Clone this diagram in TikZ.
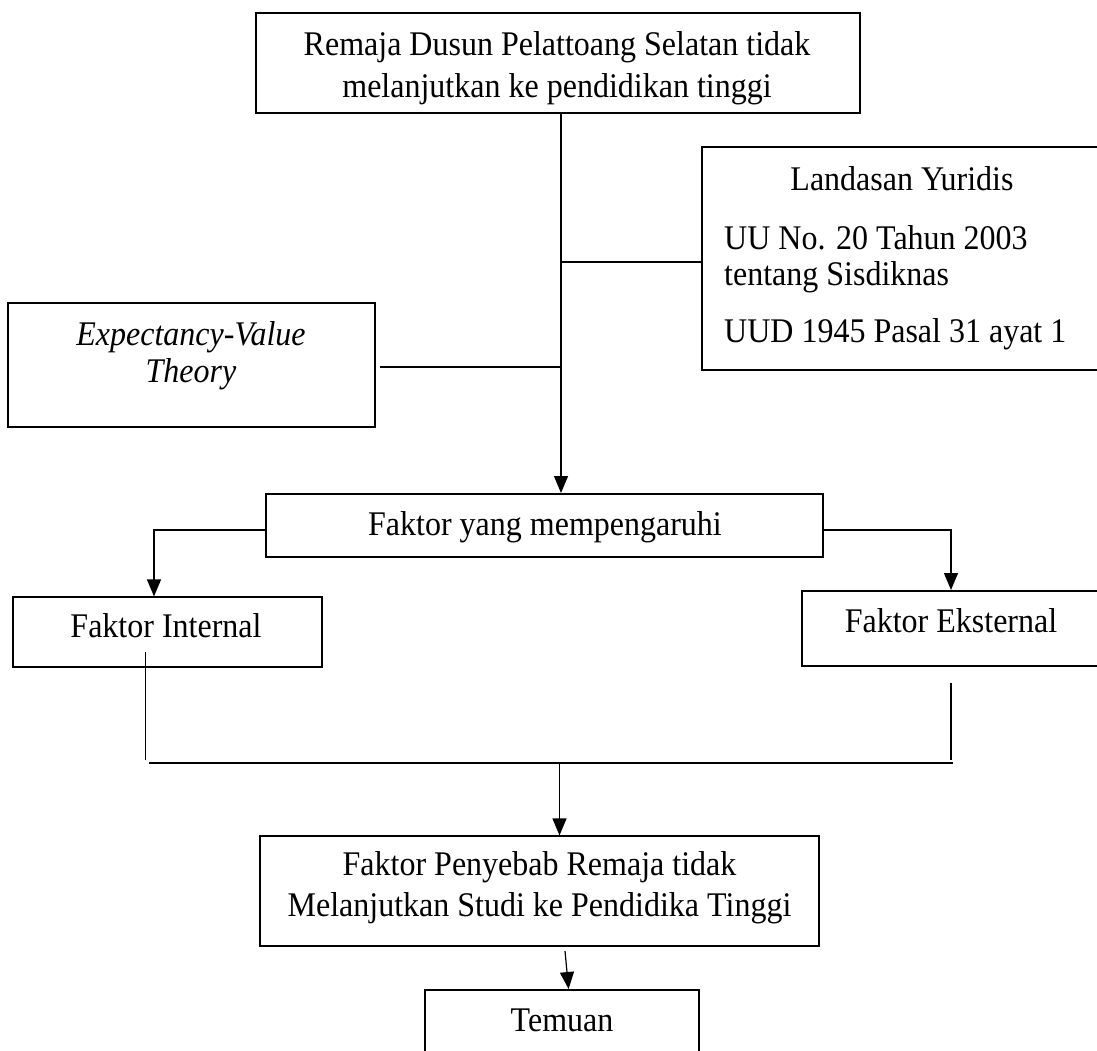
\documentclass[tikz,border=0pt]{standalone}
\usepackage{fontspec}
\setmainfont{Liberation Serif}
\usetikzlibrary{arrows.meta}
\newcommand{\tallt}[1]{\scalebox{1}[1.08]{#1}}
\tikzset{
  boxthick/.style={draw, line width=2pt, inner sep=0pt, rectangle},
  boxthin/.style={draw, line width=1.2pt, inner sep=0pt, rectangle},
  txt/.style={anchor=base, inner sep=0pt, font=\fontsize{32}{38}\selectfont},
  txtl/.style={anchor=base west, inner sep=0pt, font=\fontsize{32}{38}\selectfont},
  conn/.style={line width=1.2pt},
  arr/.style={line width=1.2pt, -{Triangle[length=17pt,width=14pt]}}
}
\begin{document}
\begin{tikzpicture}[x=1pt,y=-1pt]
\useasboundingbox (0,0) rectangle (1097,1050);
\clip (0,0) rectangle (1097,1050);
% boxes
\node[boxthick, minimum width=604pt, minimum height=100pt] (top) at (558,63) {};
\node[boxthick, minimum width=400pt, minimum height=223pt] (lan) at (902,258.5) {};
\node[boxthick, minimum width=367pt, minimum height=124pt] (exp) at (191.5,365) {};
\node[boxthick, minimum width=557pt, minimum height=63pt] (fak) at (544.5,525.5) {};
\node[boxthin, minimum width=309pt, minimum height=70pt] (int) at (167.5,632) {};
\node[boxthick, minimum width=298pt, minimum height=75pt] (ext) at (951,628.5) {};
\node[boxthin, minimum width=559pt, minimum height=110pt] (pen) at (539.5,891) {};
\node[boxthick, minimum width=274pt, minimum height=80pt] (tem) at (562,1030) {};
% texts
\node[txt] (topa) at (557,55) {\tallt{Remaja Dusun Pelattoang Selatan tidak}};
\node[txt] (topb) at (557,97) {\tallt{melanjutkan ke pendidikan tinggi}};
\node[txt] (lana) at (902,190) {\tallt{Landasan Yuridis}};
\node[txtl] (lanb) at (724,249) {\tallt{UU No. 20 Tahun 2003}};
\node[txtl] (lanc) at (724,285) {\tallt{tentang Sisdiknas}};
\node[txtl] (land) at (724,342) {\tallt{UUD 1945 Pasal 31 ayat 1}};
\node[txt] (expa) at (191,345) {\tallt{\itshape Expectancy-Value}};
\node[txt] (expb) at (191,382) {\tallt{\itshape Theory}};
\node[txt] (faka) at (545,535) {\tallt{Faktor yang mempengaruhi}};
\node[txt] (inta) at (166,637) {\tallt{Faktor Internal}};
\node[txt] (exta) at (951,632) {\tallt{Faktor Eksternal}};
\node[txt] (pena) at (539.5,875) {\tallt{Faktor Penyebab Remaja tidak}};
\node[txt] (penb) at (539.5,916) {\tallt{Melanjutkan Studi ke Pendidika Tinggi}};
\node[txt] (tema) at (562,1031) {\tallt{Temuan}};
% helper coordinates
\coordinate (mx) at (561,0);
\coordinate (ly) at (0,262);
\coordinate (ey) at (0,367);
\coordinate (fy) at (0,530);
\coordinate (lx) at (154,0);
\coordinate (rx) at (951,0);
\coordinate (ila) at (145.5,652);
\coordinate (ilb) at (145.5,760);
\coordinate (era) at (951,683);
\coordinate (erb) at (951,760);
\coordinate (hba) at (149,763);
\coordinate (hbb) at (953,763);
\coordinate (bx) at (559.5,0);
\coordinate (pa) at (565,951);
% connectors
\draw[arr] (top.south -| mx) -- (fak.north -| mx);
\draw[conn] (mx |- ly) -- (lan.west |- ly);
\draw[conn] ([xshift=4pt]exp.east |- ey) -- (mx |- ey);
\draw[arr] (fak.west |- fy) -- (lx |- fy) -- (int.north -| lx);
\draw[arr] (fak.east |- fy) -- (rx |- fy) -- (ext.north -| rx);
\draw[conn] (ila) -- (ilb);
\draw[conn] (era) -- (erb);
\draw[conn] (hba) -- (hbb);
\draw[arr] (bx |- hba) -- (pen.north -| bx);
\draw[arr] (pa) -- (tem.north -| 568.6,0);
\end{tikzpicture}
\end{document}
